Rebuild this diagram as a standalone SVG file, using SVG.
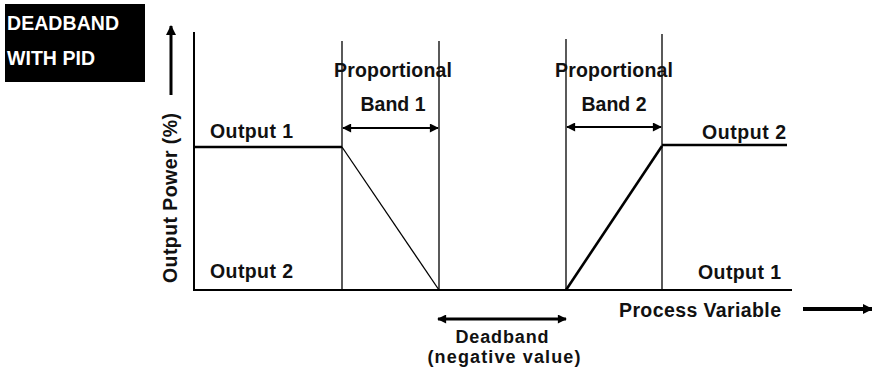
<svg xmlns="http://www.w3.org/2000/svg" width="872" height="372" viewBox="0 0 872 372">
<style>
text{font-family:"Liberation Sans",Arial,sans-serif;font-weight:bold;font-size:19.5px;fill:#111}
.sm{font-size:18px}
.ax{stroke:#000;stroke-width:2;fill:none}
.thin{stroke:#000;stroke-width:1.3;fill:none}
.out{stroke:#000;stroke-width:2.6;fill:none}
.dim{stroke:#000;stroke-width:2.2;fill:none}
</style>
<defs>
<marker id="ah" viewBox="0 0 10 10" refX="9" refY="5" markerWidth="10" markerHeight="9" markerUnits="userSpaceOnUse" orient="auto-start-reverse">
<path d="M0,0 L10,5 L0,10 Z" fill="#000"/>
</marker>
<marker id="ahb" viewBox="0 0 10 10" refX="9" refY="5" markerWidth="12" markerHeight="10" markerUnits="userSpaceOnUse" orient="auto-start-reverse">
<path d="M0,0 L10,5 L0,10 Z" fill="#000"/>
</marker>
</defs>
<rect width="872" height="372" fill="#fff"/>
<g id="title">
<rect x="5" y="4" width="140" height="78" fill="#000"/>
<text x="7" y="30" style="fill:#fff" textLength="112">DEADBAND</text>
<text x="7" y="65" style="fill:#fff" textLength="88">WITH PID</text>
</g>
<g id="axes">
<line class="ax" x1="194" y1="32" x2="194" y2="291"/>
<line class="ax" x1="193" y1="290" x2="792" y2="290"/>
<line class="thin" x1="342" y1="41" x2="342" y2="290"/>
<line class="thin" x1="439" y1="41" x2="439" y2="290"/>
<line class="thin" x1="566" y1="39" x2="566" y2="290"/>
<line class="thin" x1="662" y1="34" x2="662" y2="290"/>
</g>
<g id="curve">
<line class="out" x1="194" y1="147" x2="342" y2="147"/>
<line class="thin" x1="342" y1="147" x2="439" y2="290"/>
<line class="out" x1="566" y1="290" x2="662" y2="146"/>
<line class="out" x1="662" y1="145" x2="787" y2="145"/>
</g>
<g id="connectors">
<line x1="171" y1="95" x2="171" y2="26" stroke="#000" stroke-width="3" marker-end="url(#ahb)"/>
<line x1="803" y1="309" x2="872" y2="309" stroke="#000" stroke-width="4" marker-end="url(#ahb)"/>
<line class="dim" x1="343" y1="128" x2="438" y2="128" marker-start="url(#ah)" marker-end="url(#ah)"/>
<line class="dim" x1="567" y1="127" x2="661" y2="127" marker-start="url(#ah)" marker-end="url(#ah)"/>
<line x1="438" y1="319" x2="566" y2="319" stroke="#000" stroke-width="3" marker-start="url(#ah)" marker-end="url(#ah)"/>
</g>
<g id="labels">
<text x="177" y="198" text-anchor="middle" transform="rotate(-90 177 198)" textLength="170">Output Power (%)</text>
<text x="393" y="77" text-anchor="middle" textLength="118">Proportional</text>
<text x="393" y="111" text-anchor="middle">Band 1</text>
<text x="614" y="77" text-anchor="middle" textLength="118">Proportional</text>
<text x="614" y="111" text-anchor="middle">Band 2</text>
<text x="210" y="138" textLength="83">Output 1</text>
<text x="210" y="278" textLength="83">Output 2</text>
<text x="786" y="139" text-anchor="end" textLength="84">Output 2</text>
<text x="781" y="279" text-anchor="end" textLength="83">Output 1</text>
<text x="781" y="317" text-anchor="end" textLength="162">Process Variable</text>
<text class="sm" x="502" y="343" text-anchor="middle" textLength="93">Deadband</text>
<text class="sm" x="504" y="363" text-anchor="middle" textLength="153">(negative value)</text>
</g>
</svg>
